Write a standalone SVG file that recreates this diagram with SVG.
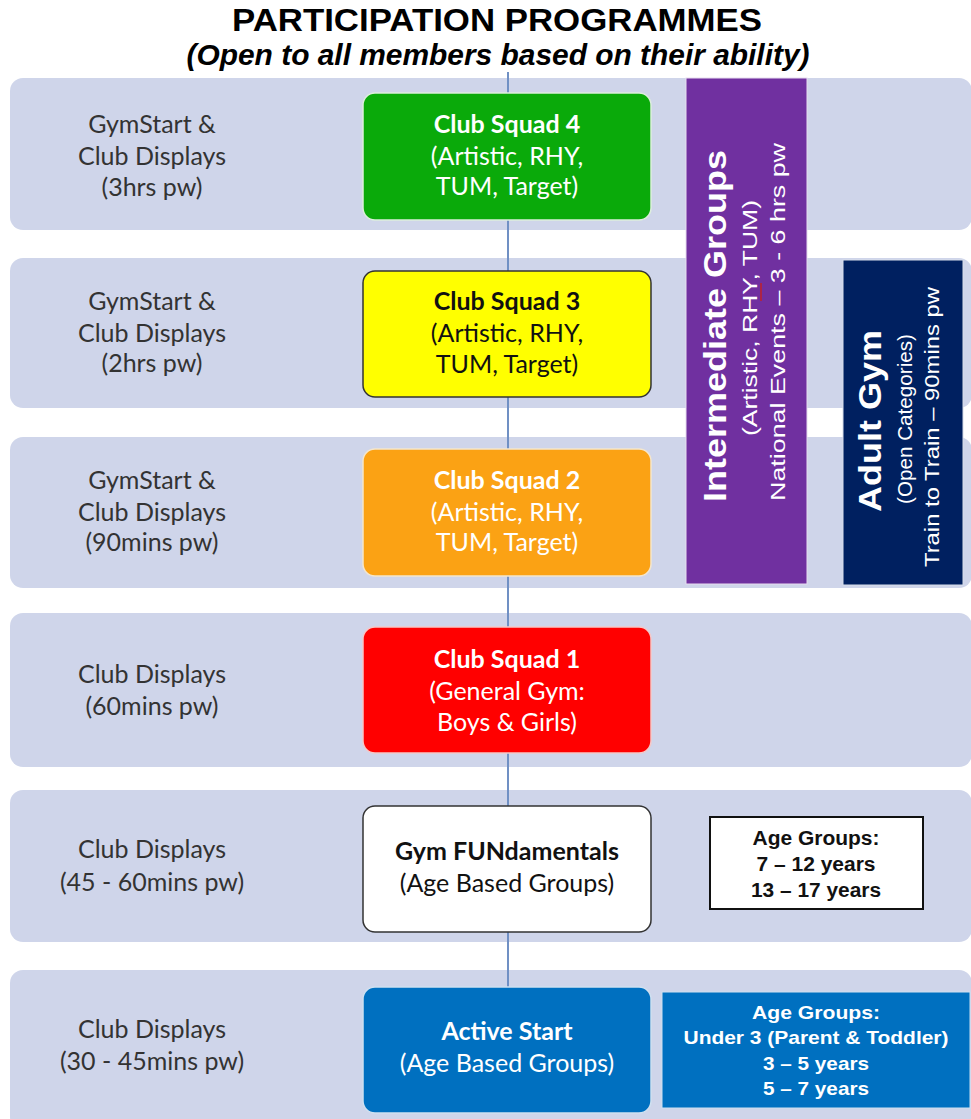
<svg xmlns="http://www.w3.org/2000/svg" width="971" height="1119" viewBox="0 0 971 1119">
<style>
.band{fill:#CFD5EA}
.lbl{font-family:Lato,"Open Sans",sans-serif;font-size:25px;fill:#333;text-anchor:middle}
.nt{font-family:Lato,"Open Sans",sans-serif;font-size:25px;text-anchor:middle}
.b{font-weight:bold}
.w{fill:#fff}
.k{fill:#111}
.ar{font-family:"Liberation Sans",Arial,sans-serif;text-anchor:middle}
.conn{stroke:#7090C4;stroke-width:2;fill:none}
</style>
<rect width="971" height="1119" fill="#fff"/>
<g id="title">
<text class="ar b" x="497" y="31" font-size="32" textLength="530" lengthAdjust="spacingAndGlyphs" fill="#000">PARTICIPATION PROGRAMMES</text>
<text class="ar b" x="498" y="65" font-size="30" font-style="italic" textLength="623" lengthAdjust="spacingAndGlyphs" fill="#000">(Open to all members based on their ability)</text>
</g>
<g id="bands">
<rect class="band" x="10" y="78" width="962" height="152" rx="13"/>
<rect class="band" x="10" y="258" width="962" height="150" rx="13"/>
<rect class="band" x="10" y="437" width="962" height="151" rx="13"/>
<rect class="band" x="10" y="613" width="962" height="154" rx="13"/>
<rect class="band" x="10" y="790" width="962" height="152" rx="13"/>
<rect class="band" x="10" y="970" width="962" height="160" rx="13"/>
</g>
<g id="left-labels">
<text class="lbl" x="152" y="133">GymStart &amp;</text>
<text class="lbl" x="152" y="165">Club Displays</text>
<text class="lbl" x="152" y="196">(3hrs pw)</text>
<text class="lbl" x="152" y="310">GymStart &amp;</text>
<text class="lbl" x="152" y="342">Club Displays</text>
<text class="lbl" x="152" y="372">(2hrs pw)</text>
<text class="lbl" x="152" y="489">GymStart &amp;</text>
<text class="lbl" x="152" y="521">Club Displays</text>
<text class="lbl" x="152" y="551">(90mins pw)</text>
<text class="lbl" x="152" y="683">Club Displays</text>
<text class="lbl" x="152" y="715">(60mins pw)</text>
<text class="lbl" x="152" y="858">Club Displays</text>
<text class="lbl" x="152" y="891">(45 - 60mins pw)</text>
<text class="lbl" x="152" y="1038">Club Displays</text>
<text class="lbl" x="152" y="1070">(30 - 45mins pw)</text>
</g>
<g id="connectors">
<line class="conn" x1="508" y1="72" x2="508" y2="990"/>
</g>
<g id="squad4">
<rect x="363" y="93" width="288" height="127" rx="12" fill="#0AAA0A" stroke="#DDEEDD" stroke-width="1.5"/>
<text class="nt b w" x="507" y="133">Club Squad 4</text>
<text class="nt w" x="507" y="165">(Artistic, RHY,</text>
<text class="nt w" x="507" y="195">TUM, Target)</text>
</g>
<g id="squad3">
<rect x="363" y="271" width="288" height="126" rx="12" fill="#FFFF00" stroke="#333" stroke-width="1.5"/>
<text class="nt b k" x="507" y="310">Club Squad 3</text>
<text class="nt k" x="507" y="342">(Artistic, RHY,</text>
<text class="nt k" x="507" y="373">TUM, Target)</text>
</g>
<g id="squad2">
<rect x="363" y="449" width="288" height="127" rx="12" fill="#FBA214" stroke="#F5E6CC" stroke-width="1.5"/>
<text class="nt b w" x="507" y="489">Club Squad 2</text>
<text class="nt w" x="507" y="521">(Artistic, RHY,</text>
<text class="nt w" x="507" y="551">TUM, Target)</text>
</g>
<g id="squad1">
<rect x="363" y="627" width="288" height="126" rx="12" fill="#FF0000" stroke="#F5C8C8" stroke-width="1.5"/>
<text class="nt b w" x="507" y="668">Club Squad 1</text>
<text class="nt w" x="507" y="700">(General Gym:</text>
<text class="nt w" x="507" y="731">Boys &amp; Girls)</text>
</g>
<g id="fundamentals">
<rect x="363" y="806" width="288" height="126" rx="12" fill="#fff" stroke="#333" stroke-width="1.5"/>
<text class="nt b k" x="507" y="860">Gym FUNdamentals</text>
<text class="nt k" x="507" y="892">(Age Based Groups)</text>
</g>
<g id="active-start">
<rect x="363" y="987" width="288" height="126" rx="12" fill="#0070C0" stroke="#CFE0F0" stroke-width="1.5"/>
<text class="nt b w" x="507" y="1040">Active Start</text>
<text class="nt w" x="507" y="1072">(Age Based Groups)</text>
</g>
<g id="age-fundamentals">
<rect x="710" y="817" width="213" height="92" fill="#fff" stroke="#111" stroke-width="2"/>
<text class="ar b" x="816" y="845" font-size="20" textLength="127" lengthAdjust="spacingAndGlyphs" fill="#111">Age Groups:</text>
<text class="ar b" x="816" y="871" font-size="20" textLength="119" lengthAdjust="spacingAndGlyphs" fill="#111">7 – 12 years</text>
<text class="ar b" x="816" y="897" font-size="20" textLength="130" lengthAdjust="spacingAndGlyphs" fill="#111">13 – 17 years</text>
</g>
<g id="age-active">
<rect x="662" y="992" width="308" height="116" fill="#0070C0" stroke="#CFE0F0" stroke-width="1"/>
<text class="ar b w" x="816" y="1019" font-size="19" textLength="128" lengthAdjust="spacingAndGlyphs">Age Groups:</text>
<text class="ar b w" x="816" y="1044" font-size="19" textLength="265" lengthAdjust="spacingAndGlyphs">Under 3 (Parent &amp; Toddler)</text>
<text class="ar b w" x="816" y="1070" font-size="19" textLength="106" lengthAdjust="spacingAndGlyphs">3 – 5 years</text>
<text class="ar b w" x="816" y="1095" font-size="19" textLength="106" lengthAdjust="spacingAndGlyphs">5 – 7 years</text>
</g>
<g id="intermediate">
<rect x="686" y="78" width="121" height="506" fill="#7030A0" stroke="#E8DDF0" stroke-width="1"/>
<text class="ar b w" font-size="32" textLength="352" lengthAdjust="spacingAndGlyphs" transform="translate(726,326) rotate(-90)">Intermediate Groups</text>
<text class="ar w" font-size="20" textLength="236" lengthAdjust="spacingAndGlyphs" transform="translate(757,318) rotate(-90)">(Artistic,  RHY, TUM)</text>
<line x1="761" y1="283" x2="761" y2="301" stroke="#C0202A" stroke-width="1.5"/>
<text class="ar w" font-size="20" textLength="358" lengthAdjust="spacingAndGlyphs" transform="translate(785,322) rotate(-90)">National Events – 3 - 6 hrs pw</text>
</g>
<g id="adult-gym">
<rect x="843" y="260" width="120" height="325" fill="#002060" stroke="#D8DEEA" stroke-width="1"/>
<text class="ar b w" font-size="32" textLength="182" lengthAdjust="spacingAndGlyphs" transform="translate(881,421) rotate(-90)">Adult Gym</text>
<text class="ar w" font-size="20" textLength="170" lengthAdjust="spacingAndGlyphs" transform="translate(912,419) rotate(-90)">(Open Categories)</text>
<text class="ar w" font-size="20" textLength="280" lengthAdjust="spacingAndGlyphs" transform="translate(939,427) rotate(-90)">Train to Train – 90mins pw</text>
</g>
</svg>
